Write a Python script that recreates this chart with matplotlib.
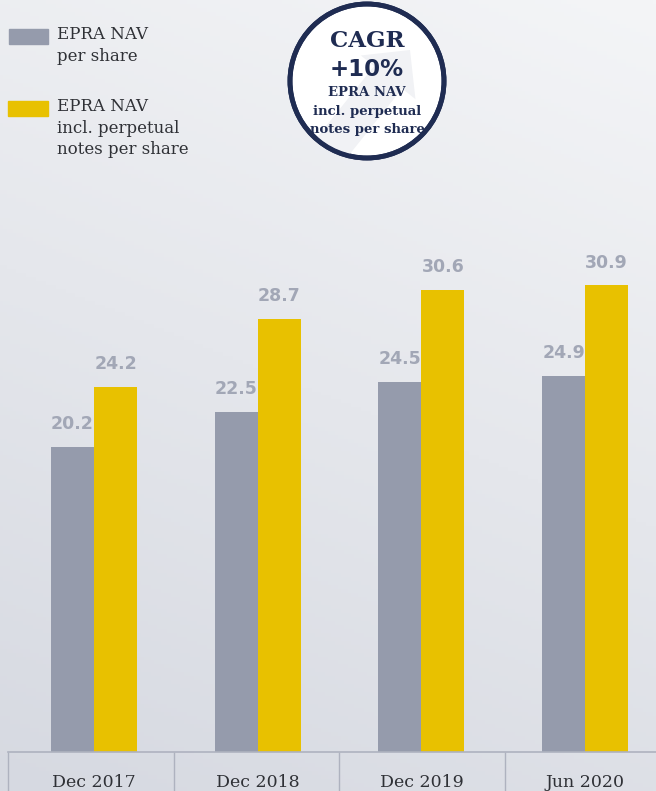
import numpy as np
import matplotlib
matplotlib.use("Agg")
import matplotlib.pyplot as plt
from matplotlib.patches import Circle, Rectangle, FancyArrow

categories = ["Dec 2017", "Dec 2018", "Dec 2019", "Jun 2020"]
nav_per_share = [20.2, 22.5, 24.5, 24.9]
nav_incl_perpetual = [24.2, 28.7, 30.6, 30.9]
legend_labels = ["EPRA NAV\nper share", "EPRA NAV\nincl. perpetual\nnotes per share"]

GREY = "#959bac"
YELLOW = "#e8c100"
NAVY = "#1f2c52"
LABEL = "#a2a7b6"
TEXT = "#2f3136"
SERIF = ["DejaVu Serif"]

W, H = 656, 791
fig = plt.figure(figsize=(W / 100, H / 100), dpi=100)

# background gradient
bg = fig.add_axes([0, 0, 1, 1], zorder=-2)
yy, xx = np.mgrid[0:1:200j, 0:1:200j]
t = 0.75 * yy + 0.25 * (1 - xx)
c0 = np.array([0xf4, 0xf5, 0xf7]) / 255
c1 = np.array([0xd6, 0xd9, 0xe1]) / 255
img = c0[None, None, :] * (1 - t[..., None]) + c1[None, None, :] * t[..., None]
bg.imshow(img, extent=[0, 1, 0, 1], origin="upper", aspect="auto")
bg.axis("off")

# bar axes (one category step ~164 px, first group centred at 94 px)
step = 163.7
ax = fig.add_axes([8 / W, 39 / H, 648 / W, 713 / H])
ax.patch.set_alpha(0)
x = np.arange(len(categories))
w = 43 / step
b1 = ax.bar(x - w / 2, nav_per_share, w, color=GREY)
b2 = ax.bar(x + w / 2, nav_incl_perpetual, w, color=YELLOW)
for bars, vals in ((b1, nav_per_share), (b2, nav_incl_perpetual)):
    for b, v in zip(bars, vals):
        ax.annotate(f"{v:.1f}", (b.get_x() + b.get_width() / 2, v),
                    xytext=(0, 10), textcoords="offset points",
                    ha="center", va="bottom", fontsize=12.5,
                    fontweight="bold", color=LABEL)
ax.set_xlim(-(94 - 8) / step, (656 - 94) / step)
ax.set_ylim(0, 713 / 15.1)
ax.set_yticks([])
ax.set_xticks(x)
ax.set_xticklabels(categories, fontsize=12.5, color=TEXT, family=SERIF)
ax.tick_params(axis="x", which="major", length=0, pad=16)
ax.set_xticks((np.array([8, 174, 339, 505]) - 94) / step, minor=True)
ax.tick_params(axis="x", which="minor", length=30, width=1, color="#aeb2bf")
for s in ["top", "right", "left"]:
    ax.spines[s].set_visible(False)
ax.spines["bottom"].set_color("#aeb2bf")
ax.spines["bottom"].set_linewidth(1.2)

# overlay in pixel coordinates: legend and CAGR badge
ov = fig.add_axes([0, 0, 1, 1])
ov.set_xlim(0, W)
ov.set_ylim(H, 0)
ov.axis("off")

ov.add_patch(Rectangle((9, 29), 39, 15, color=GREY))
ov.text(57, 26, legend_labels[0], fontsize=12, color=TEXT, family=SERIF,
        va="top", linespacing=1.35)
ov.add_patch(Rectangle((8, 101), 40, 15, color=YELLOW))
ov.text(57, 98, legend_labels[1], fontsize=12, color=TEXT, family=SERIF,
        va="top", linespacing=1.35)

badge = Circle((367, 81), 77, facecolor="white", edgecolor=NAVY, lw=3.5, zorder=1)
ov.add_patch(badge)
arrow = FancyArrow(310, 175, 100, -125, width=36, head_width=70, head_length=35,
                   facecolor="#f1f2f5", edgecolor="none",
                   length_includes_head=True, zorder=2)
arrow.set_clip_path(Circle((367, 81), 75, transform=ov.transData))
ov.add_patch(arrow)
ov.add_patch(Circle((367, 81), 77, facecolor="none", edgecolor=NAVY, lw=3.5, zorder=3))
ov.text(367, 41, "CAGR", fontsize=16.5, fontweight="bold", color=NAVY,
        ha="center", va="center", family=SERIF, zorder=4)
ov.text(367, 70, "+10%", fontsize=16.5, fontweight="bold", color=NAVY,
        ha="center", va="center", zorder=4)
ov.text(367, 93, "EPRA NAV", fontsize=9.5, fontweight="bold", color=NAVY,
        ha="center", va="center", family=SERIF, zorder=4)
ov.text(367, 112, "incl. perpetual", fontsize=9.5, fontweight="bold", color=NAVY,
        ha="center", va="center", family=SERIF, zorder=4)
ov.text(367, 130, "notes per share", fontsize=9.5, fontweight="bold", color=NAVY,
        ha="center", va="center", family=SERIF, zorder=4)

fig.savefig("out.png", dpi=100)
